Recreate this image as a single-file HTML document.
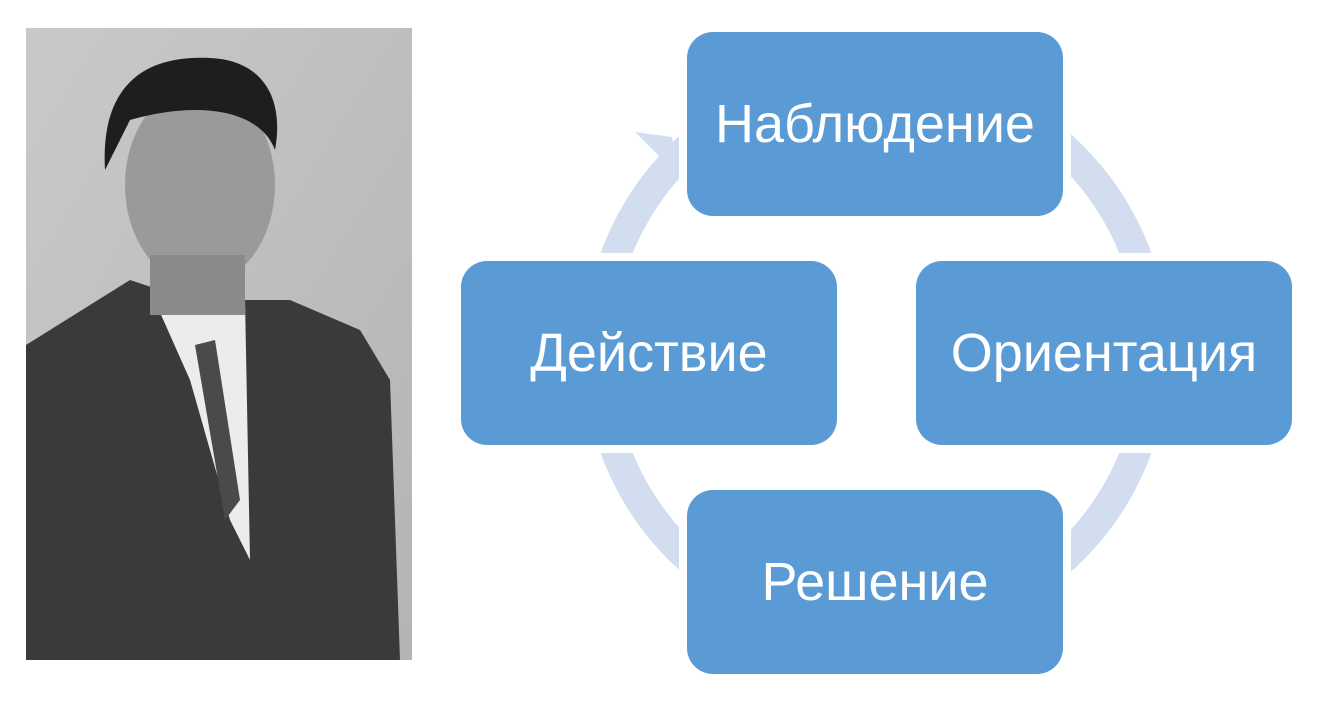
<!DOCTYPE html>
<html><head><meta charset="utf-8"><style>
body{margin:0;width:1330px;height:709px;background:#fff;overflow:hidden;position:relative;font-family:"Liberation Sans","DejaVu Sans",sans-serif}
.b{position:absolute;width:376px;height:184px;background:#5b9bd5;border-radius:26px;color:#fff;font-size:54px;display:flex;align-items:center;justify-content:center;box-shadow:0 0 0 8px #fff}
</style></head><body>
<svg style="position:absolute;left:0;top:0" width="1330" height="709">
<circle cx="876" cy="353" r="278" fill="none" stroke="#d2ddef" stroke-width="30"/>
<polygon points="635,132 672,137 678,175" fill="#d2ddef"/>
<defs><linearGradient id="g" x1="0" y1="0" x2="1" y2="1"><stop offset="0" stop-color="#c9c9c9"/><stop offset="1" stop-color="#b4b4b4"/></linearGradient></defs>
<rect x="26" y="28" width="386" height="632" fill="url(#g)"/>
<path d="M26,345 L130,280 L190,300 L240,300 L290,300 L360,330 L390,380 L400,660 L26,660 Z" fill="#3a3a3a"/>
<path d="M150,290 L200,300 L245,300 L250,560 L230,520 L190,380 Z" fill="#ececec"/>
<path d="M195,345 L215,340 L240,500 L225,520 Z" fill="#4a4a4a"/>
<ellipse cx="200" cy="185" rx="75" ry="100" fill="#9a9a9a"/>
<path d="M105,170 C100,80 150,55 210,58 C260,60 285,95 275,150 C260,110 200,100 130,120 Z" fill="#1e1e1e"/>
<rect x="150" y="255" width="95" height="60" fill="#8a8a8a"/>
</svg>
<div class="b" style="left:687px;top:32px">Наблюдение</div>
<div class="b" style="left:461px;top:261px">Действие</div>
<div class="b" style="left:916px;top:261px">Ориентация</div>
<div class="b" style="left:687px;top:490px">Решение</div>
</body></html>
